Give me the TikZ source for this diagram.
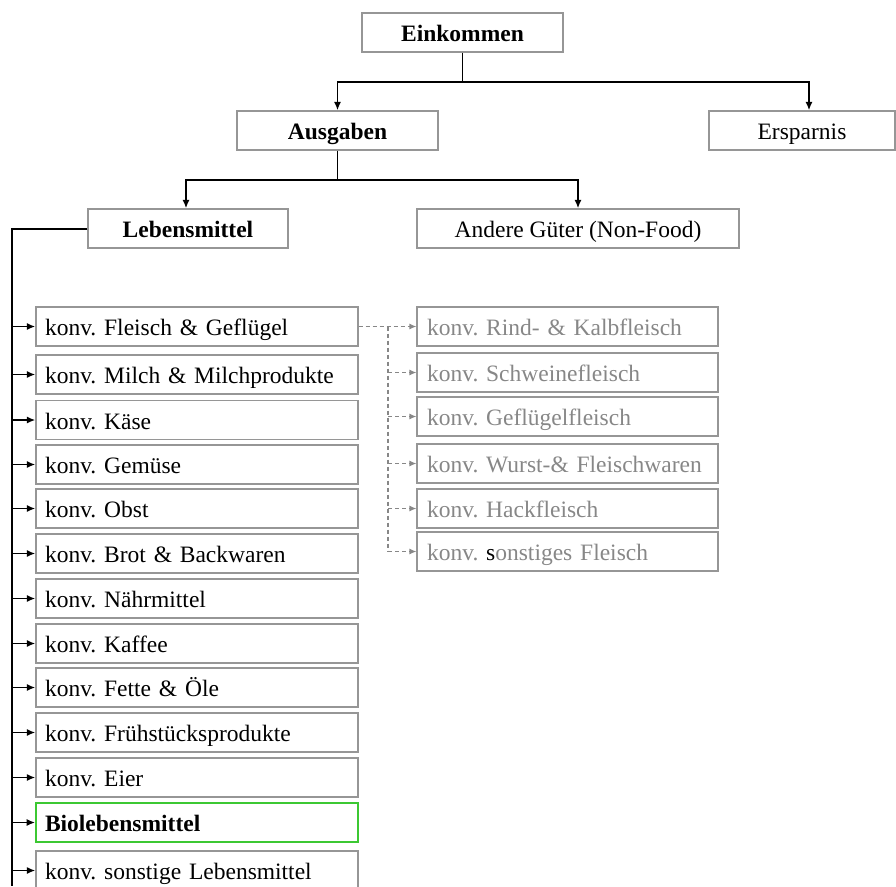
\documentclass[tikz,border=0pt]{standalone}
\usepackage{fontspec}
\setmainfont{Liberation Serif}
\usetikzlibrary{arrows.meta}
\definecolor{boxgray}{RGB}{150,150,150}
\definecolor{textgray}{RGB}{135,135,135}
\definecolor{biogreen}{RGB}{60,200,50}
\frenchspacing
\begin{document}
\begin{tikzpicture}[x=1pt,y=-1pt,
  txt/.style={font=\fontsize{23.5}{28}\selectfont},
  box/.style={txt, draw=boxgray, line width=1.2pt, minimum height=39pt, inner sep=0pt,
    text height=23pt, text depth=4.5pt},
  topbox/.style={box, font=\fontsize{23.5}{28}\selectfont\bfseries},
  itembox/.style={box, inner xsep=9pt, text width=304pt, align=left},
  subbox/.style={box, inner xsep=10pt, text width=281pt, align=left, text=textgray},
  link/.style={line width=1.7pt},
  arr/.style={link, -{Latex[length=8.5pt,width=7pt]}},
  dlink/.style={draw=textgray, line width=1.2pt, dash pattern=on 4pt off 3pt},
  darr/.style={dlink, -{Latex[length=7pt,width=6pt]}}
]
\clip (0,0) rectangle (896,886);

% upper levels
\node[topbox, minimum width=201pt] (ein) at (462.5,32.5) {Einkommen};
\node[topbox, minimum width=201pt] (aus) at (337.5,130.5) {Ausgaben};
\node[box, minimum width=186pt] (ers) at (802,130.5) {Ersparnis};
\node[topbox, minimum width=200pt] (leb) at (188,228.5) {Lebensmittel};
\node[box, minimum width=322pt] (and) at (578,228.5) {Andere Güter (Non-Food)};

\coordinate (j1) at (462.5,82);
\coordinate (j2) at (337.5,180);
\draw[link] (ein.south) -- (j1);
\draw[arr] (j1) -| (aus.north);
\draw[arr] (j1) -| ([xshift=7pt]ers.north);
\draw[link] (aus.south) -- (j2);
\draw[arr] (j2) -| ([xshift=-2pt]leb.north);
\draw[arr] (j2) -| (and.north);

% food categories
\node[itembox] (i1)  at (197,326.5) {konv. Fleisch \& Geflügel};
\node[itembox] (i2)  at (197,374.5) {konv. Milch \& Milchprodukte};
\node[itembox] (i3)  at (197,420)   {konv. Käse};
\node[itembox] (i4)  at (197,464.5) {konv. Gemüse};
\node[itembox] (i5)  at (197,508.5) {konv. Obst};
\node[itembox] (i6)  at (197,553.5) {konv. Brot \& Backwaren};
\node[itembox] (i7)  at (197,598.5) {konv. Nährmittel};
\node[itembox] (i8)  at (197,643.5) {konv. Kaffee};
\node[itembox] (i9)  at (197,687.5) {konv. Fette \& Öle};
\node[itembox] (i10) at (197,732.5) {konv. Frühstücksprodukte};
\node[itembox] (i11) at (197,777.5) {konv. Eier};
\node[itembox, draw=biogreen, line width=1.6pt, font=\fontsize{23.5}{28}\selectfont\bfseries] (i12) at (197,822.5) {Biolebensmittel};
\node[itembox] (i13) at (197,870.5) {konv. sonstige Lebensmittel};

\coordinate (rail) at (12,228.5);
\coordinate (railend) at (12,886);
\draw[link, line width=2pt] (leb.west) -- (rail) -- (railend);
\foreach \n in {i1,i2,i3,i4,i5,i6,i7,i8,i9,i10,i11,i12,i13}
  \draw[arr] (\n.west -| rail) -- (\n.west);

% meat subcategories
\node[subbox] (s1) at (567.5,326.5) {konv. Rind- \& Kalbfleisch};
\node[subbox] (s2) at (567.5,372.5) {konv. Schweinefleisch};
\node[subbox] (s3) at (567.5,416.5) {konv. Geflügelfleisch};
\node[subbox] (s4) at (567.5,463.5) {konv. Wurst-\& Fleischwaren};
\node[subbox] (s5) at (567.5,508.5) {konv. Hackfleisch};
\node[subbox] (s6) at (567.5,551.5) {konv. \textcolor{black}{s}onstiges Fleisch};

\coordinate (dtop) at (388,326.5);
\draw[darr] (i1.east) -- (s1.west);
\draw[dlink] (dtop) -- (dtop |- s6.west);
\foreach \n in {s2,s3,s4,s5,s6}
  \draw[darr] (\n.west -| dtop) -- (\n.west);
\end{tikzpicture}
\end{document}
